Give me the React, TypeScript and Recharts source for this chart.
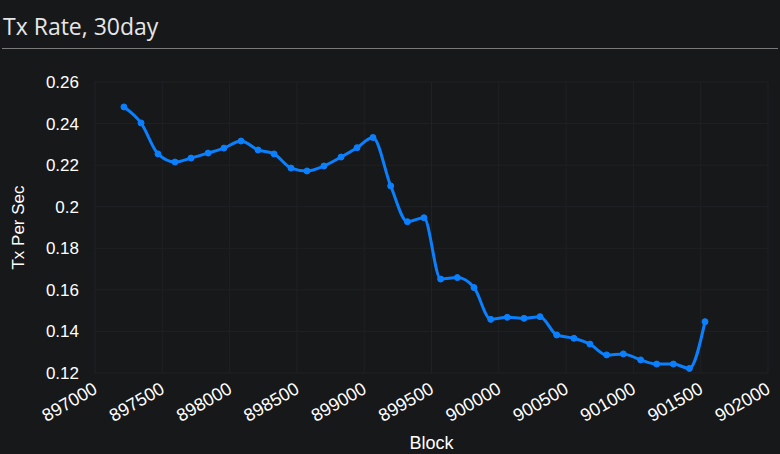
import React from 'react';
import { LineChart, Line, XAxis, YAxis, CartesianGrid } from 'recharts';

const blocks = [
  897215, 897342, 897468, 897594, 897713, 897840, 897958, 898085, 898211, 898330,
  898456, 898575, 898701, 898828, 898947, 899065, 899197, 899321, 899444, 899568,
  899692, 899816, 899940, 900063, 900187, 900306, 900430, 900558, 900677, 900801,
  900925, 901054, 901173, 901297, 901416, 901532,
];
const txRate = [
  0.2480, 0.2403, 0.2254, 0.2215, 0.2234, 0.2258, 0.2282, 0.2316, 0.2273, 0.2254,
  0.2186, 0.2172, 0.2196, 0.2239, 0.2284, 0.2333, 0.2100, 0.1928, 0.1947, 0.1652,
  0.1659, 0.1611, 0.1458, 0.1468, 0.1463, 0.1471, 0.1383, 0.1367, 0.1339, 0.1287,
  0.1292, 0.1263, 0.1243, 0.1243, 0.1222, 0.1447,
];
const xTicks = [897000, 897500, 898000, 898500, 899000, 899500, 900000, 900500, 901000, 901500, 902000];
const yTicks = [0.12, 0.14, 0.16, 0.18, 0.2, 0.22, 0.24, 0.26];

const data = blocks.map((b, i) => ({ block: b, rate: txRate[i] }));

const FONT = '"Liberation Sans", Arial, sans-serif';

const XTick = (props: any) => {
  const { x, y, payload } = props;
  return (
    <g transform={`translate(${x - 3},${y})`}>
      <text
        x={0}
        y={0}
        dy={13}
        textAnchor="end"
        fill="#ffffff"
        fontSize={18}
        fontFamily={FONT}
        transform="rotate(-30)"
      >
        {payload.value}
      </text>
    </g>
  );
};

export default function App() {
  return (
    <div
      style={{
        position: 'fixed',
        left: 0,
        top: 0,
        width: 780,
        height: 454,
        background: '#17181a',
        overflow: 'hidden',
      }}
    >
      <div
        style={{
          position: 'absolute',
          left: 3,
          top: 11,
          color: '#e6e6e6',
          fontFamily: '"Open Sans", "Noto Sans", sans-serif',
          fontSize: 23,
          lineHeight: '30px',
        }}
      >
        Tx Rate, 30day
      </div>
      <div
        style={{
          position: 'absolute',
          left: 2,
          top: 48,
          width: 776,
          height: 1,
          background: '#7a7a7a',
        }}
      />
      <div style={{ position: 'absolute', left: 0, top: 0 }}>
        <LineChart
          width={780}
          height={454}
          data={data}
          margin={{ top: 82, right: 12, bottom: 0, left: 0 }}
        >
          <CartesianGrid stroke="#202124" strokeWidth={1} />
          <XAxis
            dataKey="block"
            type="number"
            domain={[897000, 902000]}
            ticks={xTicks}
            interval={0}
            height={81}
            axisLine={false}
            tickLine={false}
            tick={<XTick />}
            label={{
              value: 'Block',
              position: 'insideBottom',
              offset: 5,
              fill: '#ffffff',
              fontSize: 18,
              fontFamily: FONT,
            }}
          />
          <YAxis
            type="number"
            domain={[0.12, 0.26]}
            ticks={yTicks}
            interval={0}
            width={95}
            axisLine={false}
            tickLine={false}
            tickMargin={10}
            tick={{ fill: '#ffffff', fontSize: 17, fontFamily: FONT }}
            label={{
              value: 'Tx Per Sec',
              angle: -90,
              position: 'insideLeft',
              offset: 18,
              fill: '#ffffff',
              fontSize: 17,
              fontFamily: FONT,
              style: { textAnchor: 'middle' },
            }}
          />
          <Line
            dataKey="rate"
            type="monotone"
            stroke="#0a80ff"
            strokeWidth={3}
            dot={{ r: 3, fill: '#0a80ff', stroke: '#0a80ff', strokeWidth: 1 }}
            isAnimationActive={false}
          />
        </LineChart>
      </div>
    </div>
  );
}
